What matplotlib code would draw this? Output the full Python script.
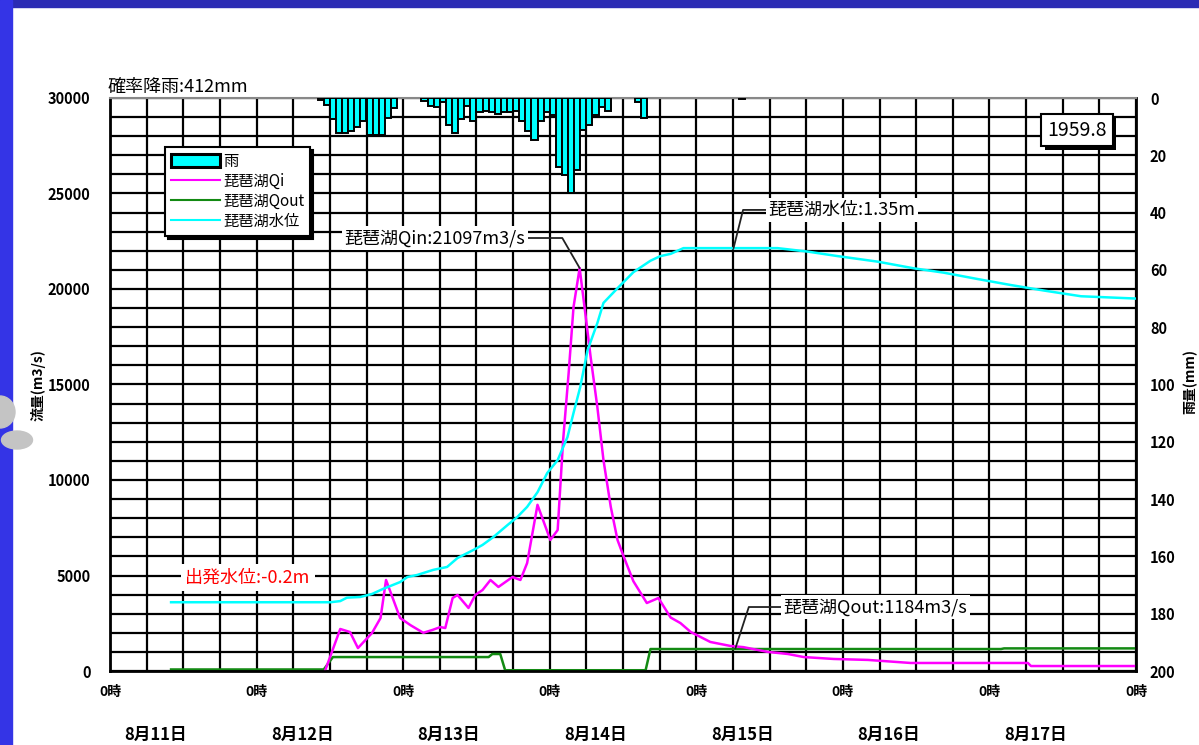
import matplotlib
matplotlib.use("Agg")
import matplotlib.pyplot as plt
import matplotlib.patheffects as pe
from matplotlib.patches import Rectangle, Ellipse, Patch
from matplotlib.lines import Line2D
from matplotlib.transforms import blended_transform_factory

plt.rcParams['font.family'] = ['Noto Sans CJK JP', 'DejaVu Sans']

# time axis: hours counted from 8/11 0時
days = ['8月11日', '8月12日', '8月13日', '8月14日', '8月15日', '8月16日', '8月17日']

# hourly rain (mm), right axis (inverted)
rain_hours = list(range(34, 47)) + list(range(51, 82)) + [86, 87, 103]
rain_mm = [0.8, 2.3, 7.3, 12.2, 12.2, 11.6, 10, 8, 13, 13, 13, 7, 3.5,
           1.0, 2.8, 3.3, 1.5, 9.5, 12.3, 7.5, 2.8, 8, 5, 4.5, 5, 5.5, 5, 4.8,
           4.5, 8, 11.5, 14.7, 8, 5, 6, 24, 27, 33, 25, 11, 9.5, 6, 3, 4.5,
           1.5, 7, 0.5]

# 琵琶湖 inflow Qin (m3/s)
qin_hours = [35.2, 37.7, 39.3, 40.6, 42.9, 44.3, 45.2, 47.5, 49.2, 51.3, 52.8,
             54.1, 54.9, 56.1, 56.9, 58.7, 59.8, 61.0, 62.3, 63.6, 65.9, 67.2,
             68.3, 70.0, 72.1, 73.3, 74.2, 75.1, 75.9, 76.9, 77.9, 78.7, 79.8,
             80.8, 82.0, 83.1, 84.1, 85.7, 87.9, 89.8, 91.8, 93.4, 95.1, 98.3,
             101.6, 103.7, 107.7, 111.0, 113.6, 118.5, 124.1, 131.1, 150.3,
             150.8, 168.0]
qin = [0, 2200, 2040, 1200, 1990, 2775, 4765, 2775, 2400, 2000, 2150,
       2300, 2250, 3820, 3980, 3300, 3980, 4240, 4765, 4400, 4920, 4765,
       5650, 8700, 6860, 7380, 12100, 15600, 19060, 21097, 18540, 16440, 13820,
       11050, 8590, 6860, 6000, 4700, 3560, 3820, 2800, 2510, 2040, 1520,
       1310, 1250, 1000, 890, 730, 630, 580, 420, 420,
       260, 260]

# 琵琶湖 outflow Qout (m3/s)
qout_hours = [10, 35, 36.5, 62.0, 62.6, 63.9, 64.7, 87.7, 88.5, 145.9, 146.4, 168]
qout = [80, 80, 730, 730, 890, 890, 40, 40, 1150, 1150, 1184, 1184]

# 琵琶湖 water level (m)
lv_hours = [10, 36.1, 37.7, 38.8, 41.0, 42.9, 44.7, 47.5, 48.7, 50.3, 52.9,
            55.2, 56.9, 59.5, 61.0, 62.8, 65.1, 66.7, 68.3, 70.0, 71.6, 73.3,
            74.9, 75.9, 77.0, 78.2, 79.8, 80.8, 83.1, 85.7, 88.5, 90.1, 91.8,
            93.9, 109.3, 114.2, 119.2, 125.7, 131.6, 136.5, 142.1, 147.5, 152.9,
            159.0, 168.0]
level = [-0.2, -0.2, -0.195, -0.18, -0.177, -0.164, -0.142, -0.112, -0.09, -0.081, -0.059,
         -0.046, -0.007, 0.028, 0.05, 0.085, 0.137, 0.172, 0.216, 0.28, 0.364, 0.42,
         0.52, 0.626, 0.739, 0.9, 1.018, 1.106, 1.17, 1.24, 1.29, 1.31, 1.32,
         1.345, 1.345, 1.33, 1.31, 1.286, 1.257, 1.238, 1.21, 1.184, 1.16,
         1.135, 1.125]

fig = plt.figure(figsize=(11.99, 7.45), dpi=100)
fig.patch.set_facecolor('white')

# slide decoration (blue frame, grey dots)
fig.patches.append(Rectangle((0, 1 - 7 / 745), 1, 7 / 745, transform=fig.transFigure,
                             color='#2C2CB4', zorder=0))
fig.patches.append(Rectangle((0, 0), 12 / 1199, 1, transform=fig.transFigure,
                             color='#3434E6', zorder=0))
fig.patches.append(Ellipse((0, 1 - 412 / 745), 30 / 1199, 32 / 745, transform=fig.transFigure,
                           color='#C4C4C4', zorder=1))
fig.patches.append(Ellipse((17 / 1199, 1 - 440 / 745), 31 / 1199, 18 / 745,
                           transform=fig.transFigure, color='#C4C4C4', zorder=1))

ax = fig.add_axes([110 / 1199, 1 - 671 / 745, 1026 / 1199, 573 / 745])
ax.set_xlim(0, 168)
ax.set_ylim(0, 30000)
ax.set_xticks(range(0, 169, 24))
ax.set_xticks(range(0, 169, 6), minor=True)
ax.set_xticklabels(['0時'] * 8, fontweight='bold')
ax.set_yticks(range(0, 30001, 5000))
ax.set_yticks(range(0, 30001, 1000), minor=True)
ax.grid(which='both', color='black', lw=1.6)
ax.set_axisbelow(True)
ax.tick_params(axis='y', which='both', length=0, pad=14, labelsize=10.5)
ax.tick_params(axis='x', which='both', length=0, pad=10, labelsize=10)
for lab in ax.get_yticklabels():
    lab.set_fontweight('bold')
for s in ['left', 'bottom', 'right']:
    ax.spines[s].set_linewidth(2)
    ax.spines[s].set_color('black')
ax.spines['top'].set_color('#888888')
ax.spines['top'].set_linewidth(1.5)

ax.plot(qout_hours, qout, color='#138A13', lw=1.8)
ax.plot(qin_hours, qin, color='#FF00FF', lw=1.8)

# rain on inverted right axis
axr = ax.twinx()
axr.set_ylim(200, 0)
axr.set_yticks(range(0, 201, 20))
axr.tick_params(axis='y', length=0, pad=10, labelsize=10.5)
for lab in axr.get_yticklabels():
    lab.set_fontweight('bold')
for s in axr.spines.values():
    s.set_visible(False)
axr.bar(rain_hours, rain_mm, width=1, align='edge', color='#00FFFF',
        edgecolor='black', lw=1.4)

# water level on hidden axis
axl = ax.twinx()
axl.set_ylim(-0.5, 2.0)
axl.axis('off')
axl.plot(lv_hours, level, color='#00FFFF', lw=1.8)

# labels
fig.text(38 / 1199, 1 - 385 / 745, '流量(m3/s)', rotation=90, ha='center', va='center',
         fontsize=10, fontweight='bold')
fig.text(1190 / 1199, 1 - 382 / 745, '雨量(mm)', rotation=90, ha='center', va='center',
         fontsize=10, fontweight='bold')
blend = blended_transform_factory(ax.transData, ax.transAxes)
for i, d in enumerate(days):
    ax.text(24 * i + 7.5, -0.112, d, transform=blend, ha='center', va='center',
            fontsize=12, fontweight='bold')
ax.text(-0.002, 1.004, '確率降雨:412mm', transform=ax.transAxes, ha='left', va='bottom',
        fontsize=13)

box = axl.text(0.9425, 0.944, '1959.8', transform=ax.transAxes, ha='center', va='center',
               fontsize=14, bbox=dict(boxstyle='square,pad=0.3', fc='white', ec='black', lw=1.5))
box.get_bbox_patch().set_path_effects([
    pe.SimplePatchShadow(offset=(2.5, -2.5), shadow_rgbFace='black', alpha=1), pe.Normal()])

wbox = dict(boxstyle='square,pad=0.15', fc='white', ec='none')
pk = qin.index(max(qin))
axl.annotate('琵琶湖Qin:21097m3/s', xy=(qin_hours[pk], qin[pk]), xycoords=ax.transData,
             xytext=(68.0, 22670), textcoords=ax.transData, ha='right', va='center',
             fontsize=13, bbox=wbox,
             arrowprops=dict(arrowstyle='-', color='#222222', lw=1.3, relpos=(1, 0.5),
                             shrinkA=0, shrinkB=0,
                             connectionstyle='angle,angleA=0,angleB=120,rad=0'))
axl.annotate('琵琶湖水位:1.35m', xy=(102.1, max(level)), xycoords='data',
             xytext=(107.8, 24140), textcoords=ax.transData, ha='left', va='center',
             fontsize=13, bbox=wbox,
             arrowprops=dict(arrowstyle='-', color='#222222', lw=1.3, relpos=(0, 0.5),
                             shrinkA=0, shrinkB=0,
                             connectionstyle='angle,angleA=0,angleB=76,rad=0'))
axl.annotate('琵琶湖Qout:1184m3/s', xy=(102.4, qout[-1]), xycoords=ax.transData,
             xytext=(110.3, 3350), textcoords=ax.transData, ha='left', va='center',
             fontsize=13, bbox=wbox,
             arrowprops=dict(arrowstyle='-', color='#222222', lw=1.3, relpos=(0, 0.5),
                             shrinkA=0, shrinkB=0,
                             connectionstyle='angle,angleA=0,angleB=72,rad=0'))
axl.text(12.3, 4870, '出発水位:-0.2m', transform=ax.transData, ha='left', va='center',
         fontsize=13, color='red', bbox=dict(boxstyle='square,pad=0.25', fc='white', ec='none'))

handles = [Patch(facecolor='#00FFFF', edgecolor='black', lw=2.2),
           Line2D([], [], color='#FF00FF', lw=1.5),
           Line2D([], [], color='#138A13', lw=1.5),
           Line2D([], [], color='#00FFFF', lw=1.5)]
leg = axl.legend(handles, ['雨', '琵琶湖Qi', '琵琶湖Qout', '琵琶湖水位'],
                 loc='upper left', bbox_to_anchor=(0.0536, 0.9145), borderaxespad=0,
                 fontsize=11, fancybox=False, framealpha=1, edgecolor='black',
                 handlelength=3.2, handleheight=0.9, handletextpad=0.2, labelspacing=0.2,
                 borderpad=0.4, shadow=dict(color='black', alpha=1))
leg.get_frame().set_linewidth(1.5)

fig.savefig('out.png', dpi=100, facecolor='white')
